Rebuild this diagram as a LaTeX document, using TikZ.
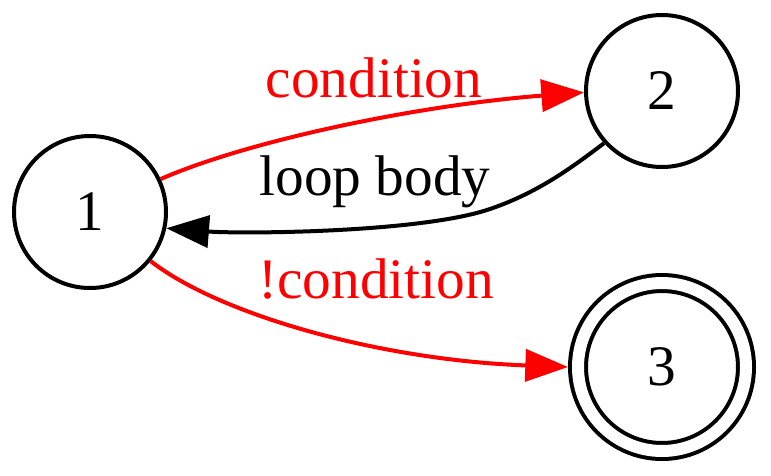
\documentclass[tikz,border=0pt]{standalone}
\usepackage{fontspec}
\setmainfont{Liberation Serif}
\usetikzlibrary{arrows.meta}

\begin{document}
\begin{tikzpicture}[x=0.75pt,y=-0.75pt,
  state/.style={draw,circle,line width=3pt,inner sep=0pt,minimum size=114pt,
    font=\fontsize{43}{50}\selectfont},
  final/.style={state,double,double distance=9pt,minimum size=126pt,outer sep=7.5pt},
  edge/.style={line width=3pt,-{Triangle[length=32pt,width=24pt]}},
  lbl/.style={anchor=base,inner sep=0pt,font=\fontsize{43}{50}\selectfont}]
\useasboundingbox (0,0) rectangle (771,475);

\node[state] (s1) at (90,212) {1};
\node[state] (s2) at (662,91) {2};
\node[final] (s3) at (662,367) {3};

\draw[edge,red] (s1.25) .. controls (250,140) and (420,105) .. (s2.181);
\node[lbl,red] (cond) at (374,97) {condition};

\draw[edge] (s2.222) .. controls (575,165) and (540,192) .. (490,209)
  .. controls (420,233) and (240,234) .. (s1.348);
\node[lbl] (body) at (375,195) {loop body};

\draw[edge,red] (s1.321) .. controls (220,315) and (380,360) .. (s3.180);
\node[lbl,red] (ncond) at (376,298) {!condition};
\end{tikzpicture}
\end{document}
